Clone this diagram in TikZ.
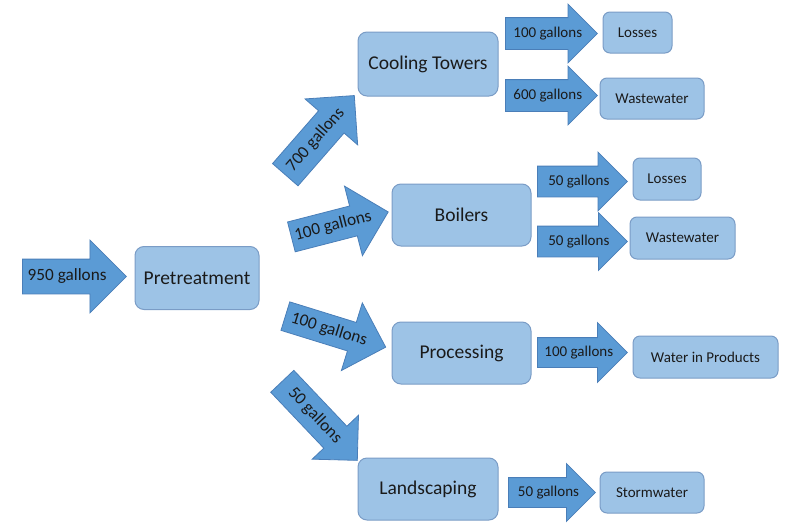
\documentclass[tikz,border=0pt]{standalone}
\usepackage{fontspec}
\setmainfont{Carlito}
\usetikzlibrary{shapes.arrows,calc}
\definecolor{boxfill}{HTML}{9DC3E6}
\definecolor{boxline}{HTML}{7A9CC6}
\definecolor{arrfill}{HTML}{5B9BD5}
\definecolor{arrline}{HTML}{4A7EB8}
\definecolor{txt}{HTML}{1A1A1A}
\tikzset{
  bigbox/.style={draw=boxline, fill=boxfill, line width=1pt, rounded corners=9pt,
    text=txt, font=\fontsize{19.5}{21}\selectfont, inner sep=0pt},
  smallbox/.style={bigbox, rounded corners=7pt, font=\fontsize{15}{17}\selectfont},
  flow/.style={single arrow, draw=arrline, fill=arrfill, line width=0.8pt,
    inner xsep=0pt, anchor=tail, single arrow tip angle=90},
  biglabel/.style={text=txt, font=\fontsize{17.2}{19}\selectfont, inner sep=0pt},
  smalllabel/.style={text=txt, font=\fontsize{15}{17}\selectfont, inner sep=0pt},
}
\begin{document}
\begin{tikzpicture}[x=1pt,y=-1pt]
\useasboundingbox (0,0) rectangle (787,522);
% main boxes
\node[bigbox, minimum width=124pt, minimum height=63pt] (pre) at (197,278) {Pretreatment};
\node[bigbox, minimum width=140pt, minimum height=64pt] (cool) at (428,64) {Cooling Towers};
\node[bigbox, minimum width=139pt, minimum height=62pt] (boil) at (461.5,215) {Boilers};
\node[bigbox, minimum width=139pt, minimum height=62pt] (proc) at (461.5,353) {Processing};
\node[bigbox, minimum width=140pt, minimum height=62pt] (land) at (428,489) {Landscaping};
% end boxes
\node[smallbox, minimum width=69pt, minimum height=41pt] (loss1) at (637.5,32.5) {Losses};
\node[smallbox, minimum width=104pt, minimum height=41pt] (waste1) at (652,98.5) {Wastewater};
\node[smallbox, minimum width=68pt, minimum height=42pt] (loss2) at (667,179) {Losses};
\node[smallbox, minimum width=105pt, minimum height=42pt] (waste2) at (682.5,238) {Wastewater};
\node[smallbox, minimum width=145pt, minimum height=42pt] (wip) at (705.5,357) {Water in Products};
\node[smallbox, minimum width=104pt, minimum height=41pt] (storm) at (652,492.5) {Stormwater};
% big arrows
\node[flow, minimum height=104pt, inner ysep=17pt, single arrow head extend=19pt] (a950) at (22,276.5) {};
\node[biglabel] (t950) at ($(a950.tail)!0.43!(a950.tip)$) {950 gallons};
\node[flow, rotate=48.9, minimum height=105pt, inner ysep=16.5pt, single arrow head extend=18pt] (a700) at (285,175) {};
\node[biglabel, rotate=48.9] (t700) at ($(a700.tail)!0.44!(a700.tip)$) {700 gallons};
\node[flow, rotate=14.45, minimum height=100pt, inner ysep=15pt, single arrow head extend=20.5pt] (a100b) at (291,237) {};
\node[biglabel, rotate=14.45] (t100b) at ($(a100b.tail)!0.43!(a100b.tip)$) {100 gallons};
\node[flow, rotate=-17.2, minimum height=105pt, inner ysep=14.5pt, single arrow head extend=20.5pt] (a100p) at (285,316) {};
\node[biglabel, rotate=-17.2] (t100p) at ($(a100p.tail)!0.435!(a100p.tip)$) {100 gallons};
\node[flow, rotate=-46.5, minimum height=109pt, inner ysep=15.5pt, single arrow head extend=16pt] (a50l) at (282,381) {};
\node[biglabel, rotate=-46.5] (t50l) at ($(a50l.tail)!0.435!(a50l.tip)$) {50 gallons};
% small arrows
\node[flow, minimum height=92pt, inner ysep=15.5pt, single arrow head extend=13.5pt] (a100t) at (505,33.5) {};
\node[smalllabel] (t100t) at ($(a100t.tail)!0.46!(a100t.tip)$) {100 gallons};
\node[flow, minimum height=92pt, inner ysep=15.5pt, single arrow head extend=13.5pt] (a600) at (505,95.5) {};
\node[smalllabel] (t600) at ($(a600.tail)!0.46!(a600.tip)$) {600 gallons};
\node[flow, minimum height=90pt, inner ysep=15pt, single arrow head extend=14pt] (a50a) at (537,181.5) {};
\node[smalllabel] (t50a) at ($(a50a.tail)!0.46!(a50a.tip)$) {50 gallons};
\node[flow, minimum height=90pt, inner ysep=15pt, single arrow head extend=13.5pt] (a50b) at (537,241.5) {};
\node[smalllabel] (t50b) at ($(a50b.tail)!0.46!(a50b.tip)$) {50 gallons};
\node[flow, minimum height=90pt, inner ysep=14.5pt, single arrow head extend=15pt] (a100w) at (537,352.5) {};
\node[smalllabel] (t100w) at ($(a100w.tail)!0.46!(a100w.tip)$) {100 gallons};
\node[flow, minimum height=87pt, inner ysep=14.5pt, single arrow head extend=14pt] (a50s) at (508,492.5) {};
\node[smalllabel] (t50s) at ($(a50s.tail)!0.46!(a50s.tip)$) {50 gallons};
\end{tikzpicture}
\end{document}
